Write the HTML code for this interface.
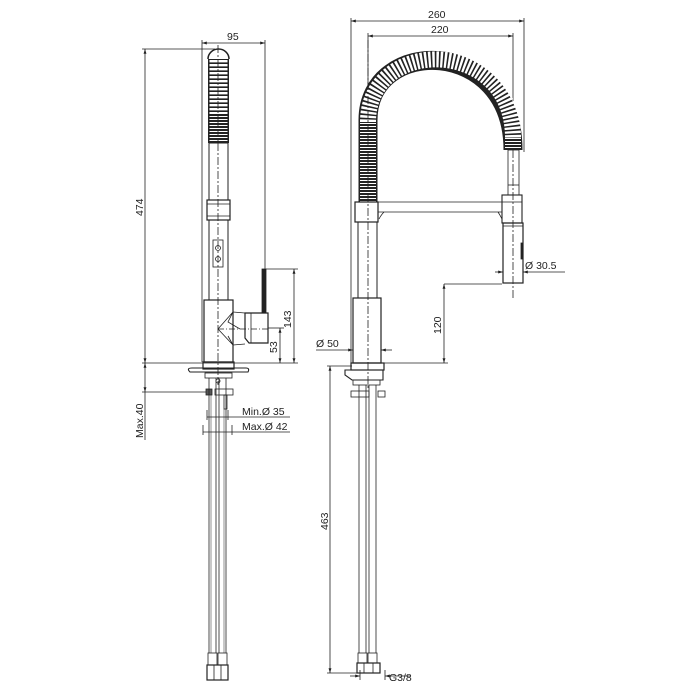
<!DOCTYPE html>
<html><head><style>
html,body{margin:0;padding:0;background:#fff;}
svg{display:block;}
text{font-family:"Liberation Sans",Arial,sans-serif;font-size:10.5px;fill:#222;}
</style></head><body>
<svg width="700" height="700" viewBox="0 0 700 700" xmlns="http://www.w3.org/2000/svg">
<defs>
<marker id="a" viewBox="0 0 10 10" refX="10" refY="5" markerWidth="6" markerHeight="6" orient="auto-start-reverse"><path d="M0,2L10,5L0,8z" fill="#222"/></marker>
</defs>
<g stroke="#222" stroke-width="0.8" fill="none">
<!-- LEFT VIEW dimensions -->
<line x1="202" y1="43" x2="265" y2="43" marker-start="url(#a)" marker-end="url(#a)"/>
<line x1="202" y1="40" x2="202" y2="362"/>
<line x1="265" y1="40" x2="265" y2="269"/>
<line x1="145" y1="49" x2="145" y2="363" marker-start="url(#a)" marker-end="url(#a)"/>
<line x1="142" y1="49" x2="215" y2="49"/>
<line x1="142" y1="363" x2="298" y2="363"/>
<line x1="266" y1="269" x2="298" y2="269"/>
<line x1="294" y1="269" x2="294" y2="363" marker-start="url(#a)" marker-end="url(#a)"/>
<line x1="268" y1="328" x2="284" y2="328"/>
<line x1="280" y1="328" x2="280" y2="363" marker-start="url(#a)" marker-end="url(#a)"/>
<line x1="145" y1="363" x2="145" y2="392" marker-start="url(#a)" marker-end="url(#a)"/>
<line x1="142" y1="392" x2="210" y2="392"/>
<line x1="145" y1="392" x2="145" y2="440"/>
<line x1="207" y1="417" x2="290" y2="417"/>
<line x1="203" y1="432" x2="290" y2="432"/>
<line x1="207" y1="410" x2="207" y2="420"/><line x1="228" y1="410" x2="228" y2="420"/>
<line x1="203" y1="425" x2="203" y2="435"/><line x1="232" y1="425" x2="232" y2="435"/>
<!-- left faucet spring -->
<path d="M218.5,143 V59" stroke="#222" stroke-width="21"/>
<path d="M218.5,60 V113" stroke="#fff" stroke-width="18" stroke-dasharray="2.4,1.6"/>
<path d="M218.5,113 V143" stroke="#fff" stroke-width="18" stroke-dasharray="1,2"/>
<path d="M208,59 A10.5,10 0 0 1 229,59" stroke-width="1.5"/>
<rect x="209" y="143" width="19" height="57" stroke-width="1"/>
<rect x="207" y="200" width="23" height="20" stroke-width="1.2"/>
<line x1="207" y1="204" x2="230" y2="204"/><line x1="207" y1="216" x2="230" y2="216"/>
<rect x="209" y="220" width="19" height="80" stroke-width="1"/>
<rect x="213" y="240" width="10" height="27"/>
<circle cx="218" cy="248" r="2.5"/><circle cx="218" cy="259" r="2.5"/>
<rect x="204" y="300" width="29" height="62" stroke-width="1.2"/>
<path d="M233,312 L218,329 L233,345 M233,312 L245,313 M233,345 L245,344 M233,312 L228,322 L240,329 M233,345 L228,336" />
<path d="M245,313 H268 V343 H249 L245,338 Z" stroke-width="1.2"/>
<line x1="251" y1="313" x2="251" y2="343"/>
<rect x="262" y="269" width="4" height="44" fill="#222"/>
<line x1="218" y1="329" x2="268" y2="329" stroke-dasharray="6,2,1,2"/>
<line x1="218" y1="45" x2="218" y2="385" stroke-dasharray="8,2,2,2"/>
<rect x="203" y="362" width="31" height="7" stroke-width="1.2"/>
<path d="M192,368 H246 Q250,368 248,372 H190 Q186,368 192,368 Z" stroke-width="1.1"/>
<rect x="205" y="373" width="27" height="5"/>
<circle cx="218" cy="381" r="2"/>
<rect x="206" y="389" width="6" height="6" fill="#555"/>
<rect x="215" y="389" width="18" height="6"/>
<rect x="224" y="395" width="3" height="14"/>
<line x1="209" y1="378" x2="209" y2="653"/><line x1="216" y1="378" x2="216" y2="653"/>
<line x1="219" y1="378" x2="219" y2="653"/><line x1="226" y1="378" x2="226" y2="653"/>
<line x1="211" y1="395" x2="211" y2="653" stroke-width="0.5"/><line x1="224" y1="409" x2="224" y2="653" stroke-width="0.5"/>
<rect x="208" y="653" width="9" height="12"/><rect x="218" y="653" width="9" height="12"/>
<rect x="207" y="665" width="21" height="15" stroke-width="1.2"/>
<line x1="214" y1="665" x2="214" y2="680"/><line x1="221" y1="665" x2="221" y2="680"/>

<!-- RIGHT VIEW dimensions -->
<line x1="351" y1="21" x2="524" y2="21" marker-start="url(#a)" marker-end="url(#a)"/>
<line x1="351" y1="18" x2="351" y2="366"/><line x1="524" y1="18" x2="524" y2="152"/>
<line x1="368" y1="36" x2="513" y2="36" marker-start="url(#a)" marker-end="url(#a)"/>
<line x1="368" y1="33" x2="368" y2="120"/><line x1="513" y1="33" x2="513" y2="150"/>
<line x1="495" y1="272" x2="503" y2="272" marker-end="url(#a)"/>
<line x1="523" y1="272" x2="565" y2="272" marker-start="url(#a)"/>
<line x1="444" y1="284" x2="502" y2="284"/>
<line x1="444" y1="284" x2="444" y2="363" marker-start="url(#a)" marker-end="url(#a)"/>
<line x1="384" y1="363" x2="448" y2="363"/>
<line x1="316" y1="350" x2="353" y2="350" marker-end="url(#a)"/>
<line x1="381" y1="350" x2="392" y2="350" marker-start="url(#a)"/>
<line x1="327" y1="366" x2="352" y2="366"/>
<line x1="330" y1="366" x2="330" y2="673" marker-start="url(#a)" marker-end="url(#a)"/>
<line x1="327" y1="673" x2="360" y2="673"/>
<line x1="350" y1="676" x2="360" y2="676" marker-end="url(#a)"/>
<line x1="385" y1="676" x2="410" y2="676" marker-start="url(#a)"/>
<line x1="360" y1="670" x2="360" y2="680"/><line x1="385" y1="670" x2="385" y2="680"/>
<!-- right faucet spring -->
<path d="M368,202 V120 C368,36 513,36 513,150" stroke="#222" stroke-width="19"/>
<path d="M368,122 C368,36 513,36 513,138" stroke="#fff" stroke-width="16" stroke-dasharray="2.4,1.6"/>
<path d="M368,202 V122" stroke="#fff" stroke-width="16" stroke-dasharray="1,2"/>
<path d="M513,138 V150" stroke="#fff" stroke-width="16" stroke-dasharray="1,2"/>
<rect x="508" y="150" width="11" height="45"/>
<line x1="508" y1="185" x2="519" y2="185"/>
<path d="M378,202 H502 M378,212 H502 M384,212 Q381,215 379,219 M498,212 Q500,215 502,219"/>
<rect x="355" y="202" width="23" height="20" stroke-width="1.2"/>
<rect x="502" y="195" width="20" height="28" stroke-width="1.1"/>
<line x1="502" y1="202" x2="522" y2="202"/>
<rect x="503" y="223" width="20" height="60" stroke-width="1.2"/>
<line x1="503" y1="226" x2="523" y2="226"/>
<rect x="521" y="243" width="2" height="16" fill="#222"/>
<line x1="513" y1="150" x2="513" y2="300" stroke-dasharray="8,2,2,2"/>
<rect x="358" y="222" width="19" height="76" stroke-width="1"/>
<rect x="353" y="298" width="28" height="65" stroke-width="1.2"/>
<line x1="368" y1="40" x2="368" y2="390" stroke-dasharray="8,2,2,2"/>
<rect x="351" y="363" width="33" height="7" stroke-width="1.2"/>
<path d="M345,370 H383 V380 H352 L345,375 Z" stroke-width="1.1"/>
<rect x="353" y="380" width="27" height="5"/>
<rect x="351" y="391" width="18" height="6"/><rect x="378" y="391" width="7" height="6"/>
<line x1="359" y1="385" x2="359" y2="653"/><line x1="366" y1="385" x2="366" y2="653"/>
<line x1="369" y1="385" x2="369" y2="653"/><line x1="376" y1="385" x2="376" y2="653"/>
<rect x="358" y="653" width="9" height="10"/><rect x="368" y="653" width="9" height="10"/>
<rect x="357" y="663" width="23" height="10" stroke-width="1.2"/>
<line x1="364" y1="663" x2="364" y2="673"/><line x1="373" y1="663" x2="373" y2="673"/>
</g>
<g>
<text x="227" y="40">95</text>
<text x="428" y="18">260</text>
<text x="431" y="33">220</text>
<text x="525" y="269">Ø 30.5</text>
<text x="316" y="347">Ø 50</text>
<text x="389" y="681">G3/8</text>
<text x="242" y="415">Min.Ø 35</text>
<text x="242" y="430">Max.Ø 42</text>
<text transform="translate(143,216) rotate(-90)">474</text>
<text transform="translate(291,328) rotate(-90)">143</text>
<text transform="translate(277,353) rotate(-90)">53</text>
<text transform="translate(441,334) rotate(-90)">120</text>
<text transform="translate(328,530) rotate(-90)">463</text>
<text transform="translate(143,438) rotate(-90)">Max.40</text>
</g>
</svg>
</body></html>
